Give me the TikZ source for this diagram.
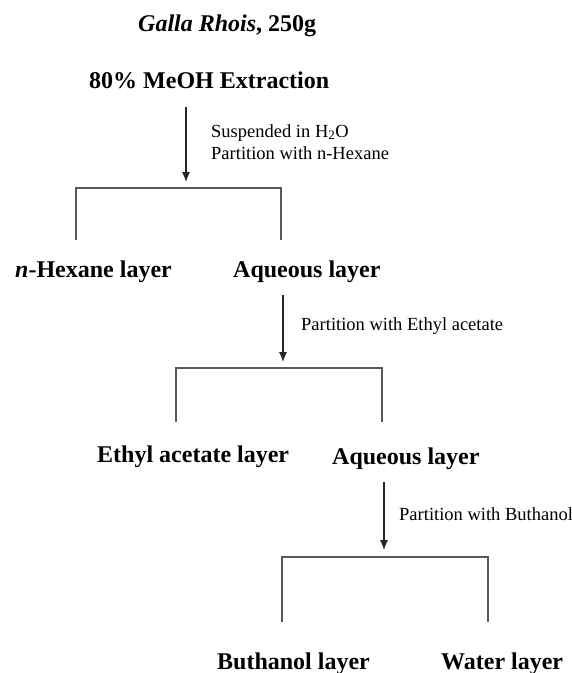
\documentclass[tikz,border=0pt]{standalone}
\usepackage{fontspec}
\setmainfont{Liberation Serif}
\usetikzlibrary{arrows.meta}
\begin{document}
\begin{tikzpicture}[x=1pt,y=-1pt,
  title/.style={anchor=base west,inner sep=0pt,font=\fontsize{24}{28}\selectfont\bfseries},
  note/.style={anchor=base west,inner sep=0pt,font=\fontsize{18.5}{22}\selectfont,align=left},
  flow/.style={draw=black!85,line width=1.1pt,-{Latex[length=10pt,width=8pt]}},
  split/.style={draw=black!65,line width=1.4pt}]
\useasboundingbox (0,0) rectangle (572,673);
\fill[white] (0,0) rectangle (572,673);
% texts
\node[title] (galla) at (138,31) {\itshape Galla Rhois\upshape, 250g};
\node[title] (meoh) at (89,88) {80\% MeOH Extraction};
\node[note] (n1) at (211,137) {Suspended in H\textsubscript{2}O};
\node[note] (n2) at (211,159) {Partition with n-Hexane};
\node[title] (hex) at (15,277) {\itshape n\upshape -Hexane layer};
\node[title] (aq1) at (233,277) {Aqueous layer};
\node[note] (n3) at (301,330) {Partition with Ethyl acetate};
\node[title] (ea) at (97,462) {Ethyl acetate layer};
\node[title] (aq2) at (332,464) {Aqueous layer};
\node[note] (n4) at (399,520) {Partition with Buthanol};
\node[title] (bu) at (217,669) {Buthanol layer};
\node[title] (wa) at (441,669) {Water layer};
% arrow coordinates
\coordinate (s1) at (186,107); \coordinate (t1) at (186,182);
\coordinate (s2) at (283,295); \coordinate (t2) at (283,362);
\coordinate (s3) at (384,482); \coordinate (t3) at (384,550);
% brackets
\coordinate (b1l) at (76,240); \coordinate (b1lt) at (76,188);
\coordinate (b1rt) at (281,188); \coordinate (b1r) at (281,240);
\coordinate (b2l) at (176,422); \coordinate (b2lt) at (176,368);
\coordinate (b2rt) at (382,368); \coordinate (b2r) at (382,422);
\coordinate (b3l) at (282,622); \coordinate (b3lt) at (282,557);
\coordinate (b3rt) at (488,557); \coordinate (b3r) at (488,622);
\draw[flow] (s1) -- (t1);
\draw[flow] (s2) -- (t2);
\draw[flow] (s3) -- (t3);
\draw[split] (b1l) -- (b1lt) -- (b1rt) -- (b1r);
\draw[split] (b2l) -- (b2lt) -- (b2rt) -- (b2r);
\draw[split] (b3l) -- (b3lt) -- (b3rt) -- (b3r);
\end{tikzpicture}
\end{document}
